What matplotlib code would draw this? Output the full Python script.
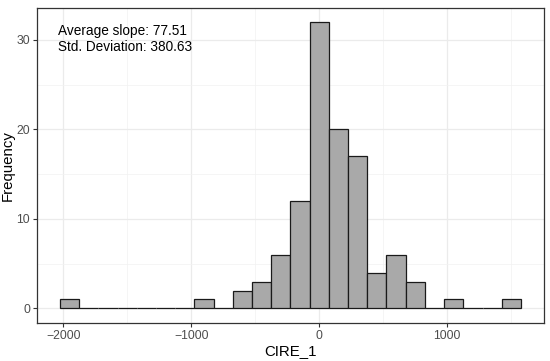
import matplotlib
matplotlib.use("Agg")
import matplotlib.pyplot as plt
import numpy as np

plt.rcParams['font.family'] = ['Liberation Sans', 'DejaVu Sans']

# Histogram data (binwidth 150)
bin_width = 150
bin_left = np.arange(-2025, 1575, bin_width)
counts = [1, 0, 0, 0, 0, 0, 0, 1, 0, 2, 3, 6, 12, 32, 20, 17, 4, 6, 3, 0, 1, 0, 0, 1]
x_ticks = [-2000, -1000, 0, 1000]
y_ticks = [0, 10, 20, 30]
stats_text = "Average slope: 77.51\nStd. Deviation: 380.63"

fig = plt.figure(figsize=(5.5, 3.61), dpi=100)
ax = fig.add_axes([0.0673, 0.106, 0.9217, 0.873])

ax.bar(bin_left, counts, width=bin_width, align='edge',
       color='#A9A9A9', edgecolor='#1a1a1a', linewidth=0.9, zorder=3)

# ggplot-like expansion
x0, x1 = bin_left[0], bin_left[-1] + bin_width
xpad = 0.05 * (x1 - x0)
ax.set_xlim(x0 - xpad, x1 + xpad)
ypad = 0.05 * max(counts)
ax.set_ylim(-ypad, max(counts) + ypad)

ax.set_xticks(x_ticks)
ax.set_yticks(y_ticks)
ax.set_xticks([-1500, -500, 500, 1500], minor=True)
ax.set_yticks([5, 15, 25], minor=True)
ax.grid(which='major', color='#EBEBEB', linewidth=0.9, zorder=0)
ax.grid(which='minor', color='#F2F2F2', linewidth=0.5, zorder=0)
ax.set_axisbelow(True)

ax.tick_params(which='major', length=3, color='#333333', labelsize=8.8,
               labelcolor='#4D4D4D', pad=2)
ax.tick_params(which='minor', length=0)
for s in ax.spines.values():
    s.set_color('#333333')
    s.set_linewidth(0.9)

ax.set_xlabel("CIRE_1", fontsize=10.8, labelpad=2)
ax.set_ylabel("Frequency", fontsize=10.8, labelpad=1)

ax.text(-2040, 31.8, stats_text, fontsize=9.8, va='top', ha='left',
        linespacing=1.25, color='black')

fig.savefig("out.png", dpi=100)
